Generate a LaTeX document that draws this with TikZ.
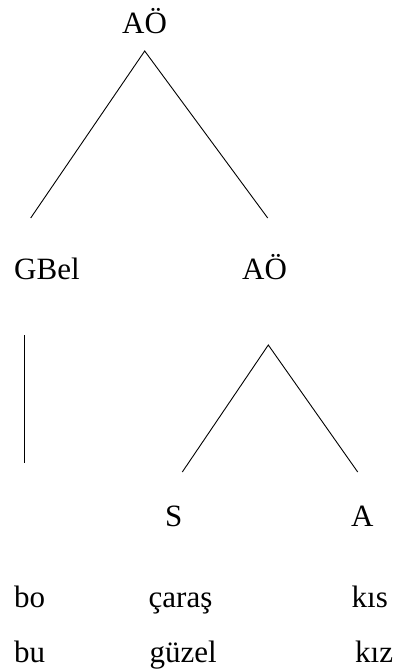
\documentclass[tikz,border=0pt]{standalone}
\usepackage{fontspec}
\setmainfont{Liberation Serif}
\begin{document}
\begin{tikzpicture}[x=1pt,y=-1pt,
  lbl/.style={inner sep=0pt,anchor=base west,font=\fontsize{31}{36}\selectfont},
  edge/.style={line width=0.9pt,black}]
\useasboundingbox (0,0) rectangle (397,671);
% labels
\node[lbl] (root) at (122,34) {AÖ};
\node[lbl] (gbel) at (14,279) {GBel};
\node[lbl] (ao) at (242,279) {AÖ};
\node[lbl] (s) at (165,526.5) {S};
\node[lbl] (a) at (351,526) {A};
\node[lbl] (bo) at (14,607) {bo};
\node[lbl] (caras) at (148.5,607) {çaraş};
\node[lbl] (kis) at (351.5,607) {kıs};
\node[lbl] (bu) at (14,662) {bu};
\node[lbl] (guzel) at (149.5,662) {güzel};
\node[lbl] (kiz) at (355,662) {kız};
% connector ends
\coordinate (apex1) at (144.7,51);
\coordinate (l1) at (30.7,218);
\coordinate (r1) at (267.7,218);
\coordinate (vtop) at (24.3,335);
\coordinate (vbot) at (24.3,463);
\coordinate (apex2) at (268.3,345);
\coordinate (l2) at (182.3,472);
\coordinate (r2) at (357.7,472);
\draw[edge] (l1) -- (apex1) -- (r1);
\draw[edge] (vtop) -- (vbot);
\draw[edge] (l2) -- (apex2) -- (r2);
\end{tikzpicture}
\end{document}
